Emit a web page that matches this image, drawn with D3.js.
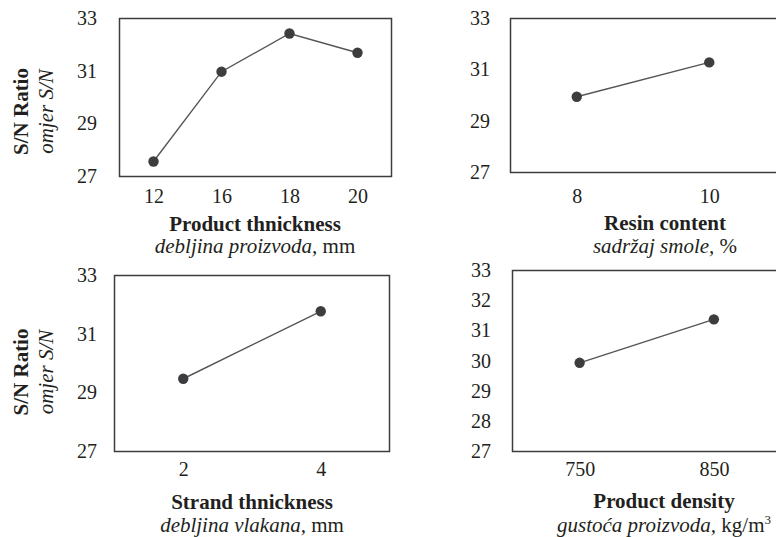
<!DOCTYPE html>
<html>
<head>
<meta charset="utf-8">
<script src="https://cdn.jsdelivr.net/npm/d3@7"></script>
<style>
  body { margin: 0; background: #fff; }
  svg { display: block; }
  .tick text { font-family: "Liberation Serif", "Times New Roman", serif; font-size: 20px; fill: #231f20; }
  .ttl { font-family: "Liberation Serif", "Times New Roman", serif; font-size: 21px; fill: #231f20; }
</style>
</head>
<body>
<div id="chart"></div>
<script>
// --- data ---
const thicknessCats = ['12', '16', '18', '20'];
const thicknessSN = [27.57, 30.98, 32.43, 31.70];

const resinCats = ['8', '10'];
const resinSN = [29.95, 31.29];

const strandCats = ['2', '4'];
const strandSN = [29.48, 31.78];

const densityCats = ['750', '850'];
const densitySN = [29.94, 31.38];

const yTicksWide = [27, 29, 31, 33];
const yTicksFine = [27, 28, 29, 30, 31, 32, 33];

const svg = d3.select('#chart')
  .append('svg')
  .attr('width', 776)
  .attr('height', 537);

// panel boxes (plot areas)
const panels = [
  { cats: thicknessCats, vals: thicknessSN, ticks: yTicksWide,
    left: 119.5, width: 272, top: 18.5, bottom: 176.5, frameRight: 391.5,
    labelX: 97, xLabBase: 203, titleX: 255, titleY: 231, subY: 253,
    title: 'Product thnickness', sub: ['debljina proizvoda,', ' mm'], ylab: true, ylabY: 111.5 },
  { cats: resinCats, vals: resinSN, ticks: yTicksWide,
    left: 510.5, width: 265, top: 18.5, bottom: 172.5, frameRight: 790,
    labelX: 490, xLabBase: 203, titleX: 665, titleY: 230, subY: 253,
    title: 'Resin content', sub: ['sadržaj smole,', ' %'], ylab: false },
  { cats: strandCats, vals: strandSN, ticks: yTicksWide,
    left: 114.5, width: 275, top: 275.5, bottom: 451.5, frameRight: 389.5,
    labelX: 97, xLabBase: 476, titleX: 252, titleY: 509, subY: 532,
    title: 'Strand thnickness', sub: ['debljina vlakana,', ' mm'], ylab: true, ylabY: 372 },
  { cats: densityCats, vals: densitySN, ticks: yTicksFine,
    left: 512.5, width: 268.5, top: 270.5, bottom: 451.5, frameRight: 790,
    labelX: 491, xLabBase: 476, titleX: 664, titleY: 508, subY: 532,
    title: 'Product density', sub: ['gustoća proizvoda,', ' kg/m'], sup: '3', ylab: false }
];

panels.forEach(p => {
  const x = d3.scalePoint()
    .domain(p.cats)
    .range([p.left, p.left + p.width])
    .padding(0.5);

  const y = d3.scaleLinear()
    .domain([27, 33])
    .range([p.bottom, p.top]);

  const g = svg.append('g');

  // frame
  g.append('rect')
    .attr('x', p.left)
    .attr('y', p.top)
    .attr('width', p.frameRight - p.left)
    .attr('height', p.bottom - p.top)
    .attr('fill', 'none')
    .attr('stroke', '#3c3c3c')
    .attr('stroke-width', 1.5);

  // y axis labels
  const yAxis = d3.axisLeft(y)
    .tickValues(p.ticks)
    .tickFormat(d3.format('d'))
    .tickSize(0)
    .tickPadding(p.left - p.labelX);
  const ya = g.append('g')
    .attr('transform', `translate(${p.left},0)`)
    .call(yAxis);
  ya.select('.domain').remove();
  ya.selectAll('.tick text').attr('dy', '0.3em');

  // x axis labels
  const xAxis = d3.axisBottom(x)
    .tickSize(0)
    .tickPadding(0);
  const xa = g.append('g')
    .attr('transform', `translate(0,${p.bottom})`)
    .call(xAxis);
  xa.select('.domain').remove();
  xa.selectAll('.tick text')
    .attr('y', p.xLabBase - p.bottom)
    .attr('dy', 0);

  // line + markers
  const pts = p.cats.map((c, i) => ({ c: c, v: p.vals[i] }));
  const line = d3.line()
    .x(d => x(d.c))
    .y(d => y(d.v));

  g.append('path')
    .datum(pts)
    .attr('d', line)
    .attr('fill', 'none')
    .attr('stroke', '#555')
    .attr('stroke-width', 1.4);

  g.selectAll('circle')
    .data(pts)
    .enter().append('circle')
    .attr('cx', d => x(d.c))
    .attr('cy', d => y(d.v))
    .attr('r', 5.2)
    .attr('fill', '#3d3d3f');

  // x titles
  g.append('text')
    .attr('class', 'ttl')
    .attr('x', p.titleX)
    .attr('y', p.titleY)
    .attr('text-anchor', 'middle')
    .attr('font-weight', 'bold')
    .text(p.title);

  const sub = g.append('text')
    .attr('class', 'ttl')
    .attr('x', p.titleX)
    .attr('y', p.subY)
    .attr('text-anchor', 'middle');
  sub.append('tspan').attr('font-style', 'italic').text(p.sub[0]);
  sub.append('tspan').text(p.sub[1]);
  if (p.sup) {
    sub.append('tspan')
      .attr('font-size', 13)
      .attr('dy', -8)
      .text(p.sup);
  }

  // y titles
  if (p.ylab) {
    g.append('text')
      .attr('class', 'ttl')
      .attr('transform', `translate(28,${p.ylabY}) rotate(-90)`)
      .attr('text-anchor', 'middle')
      .attr('font-weight', 'bold')
      .text('S/N Ratio');
    g.append('text')
      .attr('class', 'ttl')
      .attr('transform', `translate(53,${p.ylabY}) rotate(-90)`)
      .attr('text-anchor', 'middle')
      .attr('font-style', 'italic')
      .text('omjer S/N');
  }
});
</script>
</body>
</html>
